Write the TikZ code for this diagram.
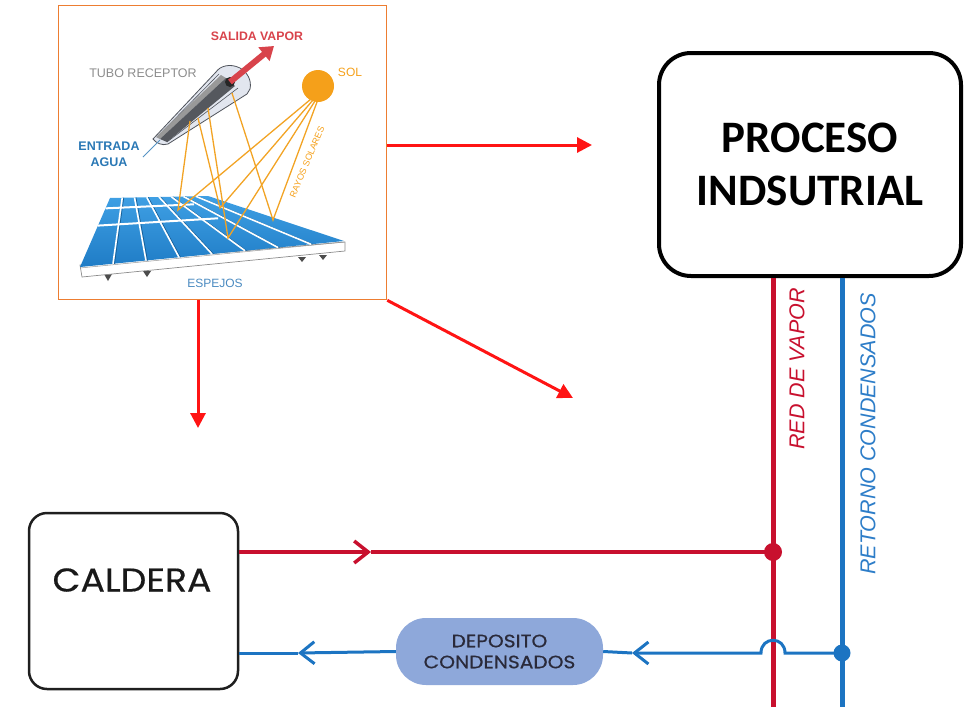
\documentclass[tikz,border=0pt]{standalone}
\usepackage{fontspec}
\setmainfont{Liberation Sans}
\newfontfamily\carlito{Carlito}
\newfontfamily\poppc[FakeBold=0.4,FakeStretch=1.1]{Poppins}
\newfontfamily\poppd[FakeBold=0.6,FakeStretch=1.12]{Poppins}
\usetikzlibrary{arrows.meta,calc}
\definecolor{arrred}{HTML}{FF1414}
\definecolor{frameor}{HTML}{ED7D31}
\definecolor{pipered}{HTML}{C8102E}
\definecolor{pipeblue}{HTML}{1C74C2}
\definecolor{labblue}{HTML}{2D7DC8}
\definecolor{depfill}{HTML}{8EA8DA}
\definecolor{deptext}{HTML}{2A2A3A}
\definecolor{vaporred}{HTML}{D8434B}
\definecolor{sunor}{HTML}{F5A01A}
\definecolor{rayor}{HTML}{F2A324}
\definecolor{entblue}{HTML}{2A78B5}
\definecolor{espblue}{HTML}{4A8AC0}
\definecolor{mirrorA}{HTML}{3FA0E4}
\definecolor{mirrorB}{HTML}{1F7CC6}
\definecolor{tubefill}{HTML}{E2E6EF}
\definecolor{tubeline}{HTML}{50545C}
\definecolor{tubedark}{HTML}{55585E}
\tikzset{
  redarrow/.style={draw=arrred, line width=3pt, -{Triangle[length=15pt,width=15pt]}},
  redpipe/.style={draw=pipered, line width=5pt},
  bluepipe/.style={draw=pipeblue, line width=5pt},
  redline/.style={draw=pipered, line width=3.5pt},
  blueline/.style={draw=pipeblue, line width=3pt},
  chev/.style={-{Straight Barb[length=14pt,width=22pt]}},
  procbox/.style={draw=black, line width=4pt, rounded corners=32pt, fill=white,
    minimum width=302pt, minimum height=223pt, align=center,
    font=\carlito\bfseries\fontsize{45}{53}\selectfont},
  caldbox/.style={draw=black!88, line width=2.5pt, rounded corners=18pt,
    minimum width=209pt, minimum height=176pt},
  depbox/.style={fill=depfill, rounded corners=30pt, minimum width=207pt,
    minimum height=67pt, align=center, text=deptext,
    font=\poppd\fontsize{18}{21}\selectfont},
  dotred/.style={circle, fill=pipered, minimum size=18pt, inner sep=0pt},
  dotblue/.style={circle, fill=pipeblue, minimum size=17pt, inner sep=0pt},
  ray/.style={draw=rayor, line width=1.3pt, line join=miter},
  divline/.style={draw=white, line width=1.6pt},
}
\begin{document}
\begin{tikzpicture}[x=1pt,y=-1pt]
\useasboundingbox (0,0) rectangle (972,707);

% ---------- solar collector picture ----------
\node[draw=frameor, line width=1.6pt, minimum width=328pt, minimum height=294pt, inner sep=0pt] (solar) at (222.5,152.5) {};

% base strip and feet
\fill[black!70] (104,274) -- (112,274) -- (108,281) -- cycle;
\fill[black!70] (143,271) -- (151,271) -- (147,277) -- cycle;
\fill[black!70] (298,257) -- (306,257) -- (302,262) -- cycle;
\fill[black!70] (319,255) -- (327,255) -- (323,260) -- cycle;
\draw[fill=white, draw=black!45, line width=0.7pt] (80,265) -- (345,242) -- (345,251) -- (82,277) -- cycle;

% mirror field
\coordinate (BL) at (110,198);
\coordinate (BR) at (208,196);
\coordinate (FR) at (344,241);
\coordinate (FL) at (80,267);
\shade[top color=mirrorA, bottom color=mirrorB] (BL) -- (BR) -- (FR) -- (FL) -- cycle;
\foreach \i in {1,...,7} {
  \pgfmathsetmacro\f{\i/8}
  \draw[draw=mirrorB!70!black, line width=0.6pt] ($(BL)!\f!(BR)+(1.5,0)$) -- ($(FL)!\f!(FR)+(1.5,0)$);
  \draw[divline] ($(BL)!\f!(BR)$) -- ($(FL)!\f!(FR)$);
}
\coordinate (T7) at ($(BL)!0.72!(BR)$);
\coordinate (B7) at ($(FL)!0.72!(FR)$);
\draw[white, line width=2pt] ($(BL)!0.15!(FL)$) -- ($(T7)!0.15!(B7)$);
\draw[white, line width=2pt] ($(BL)!0.40!(FL)$) -- ($(T7)!0.42!(B7)$);
\draw[black!40, line width=0.5pt] ($(FL)+(0,1)$) -- ($(FR)+(0,1)$);

% receiver tube
\draw[fill=tubefill, draw=tubeline, line width=0.8pt] (153,139) -- (216,72)
  .. controls (220,66) and (230,63) .. (240,68)
  .. controls (247,72) and (252,80) .. (250,89)
  -- (247,94) -- (168,144)
  .. controls (162,146) and (156,143) .. (153,139) -- cycle;
\draw[tubeline, line width=0.6pt] (158,136) -- (219,74);
\fill[black!40] (156,137) -- (221,75) -- (226,78) -- (160,139) -- cycle;
\fill[tubedark] (160,139) -- (226,78) -- (235,86) -- (167,142) -- cycle;
\draw[tubeline, line width=0.6pt] (167,142) -- (238,88);

% entrance water line
\draw[draw=entblue!80, line width=1pt] (143,157) -- (160,140);

% sun
\fill[sunor] (318,86) circle[radius=16pt];

% rays
\draw[ray] (311,99) -- (178,210) -- (190,121);
\draw[ray] (313,100) -- (220,208) -- (198,118);
\draw[ray] (315,101) -- (228,238) -- (208,108);
\draw[ray] (317,102) -- (273,220) -- (232,93);

% outlet
\fill[black!85] (230,82) circle[radius=5pt];
\draw[draw=vaporred, line width=6pt, -{Triangle[length=13pt,width=17pt]}] (230,82) -- (274,46);

% picture texts
\node[font=\bfseries\fontsize{12.3}{14}\selectfont, text=vaporred] (tsal) at (257,36) {SALIDA VAPOR};
\node[font=\fontsize{12.5}{14}\selectfont, text=black!45] (ttubo) at (143,73) {TUBO RECEPTOR};
\node[font=\fontsize{12}{14}\selectfont, text=sunor] (tsol) at (350,72) {SOL};
\node[align=center, font=\bfseries\fontsize{12.5}{16}\selectfont, text=entblue] (tent) at (109,154) {ENTRADA\\AGUA};
\node[font=\fontsize{12}{14}\selectfont, text=espblue] (tesp) at (215,283) {ESPEJOS};
\node[rotate=67, font=\fontsize{9}{10}\selectfont, text=sunor, inner sep=1pt] (tray) at (307,162) {RAYOS SOLARES};

% ---------- red arrows ----------
\coordinate (a1) at (592,145);
\draw[redarrow] (solar.east |- a1) -- (a1);
\coordinate (a2) at (198,428);
\draw[redarrow] (solar.south -| a2) -- (a2);
\coordinate (a3) at (573,398);
\draw[redarrow] (solar.south east) -- (a3);

% ---------- process box and pipes ----------
\node[procbox] (proc) at (810,164.5) {PROCESO\\INDSUTRIAL};
\coordinate (rb) at (773,707);
\coordinate (bb) at (842,707);
\draw[redpipe] (proc.south -| rb) -- (rb);
\draw[bluepipe] (proc.south -| bb) -- (bb);
\node[rotate=90, font=\itshape\fontsize{21.5}{24}\selectfont, text=pipered] (rdv) at (797,369) {RED DE VAPOR};
\node[rotate=90, font=\itshape\fontsize{21.5}{24}\selectfont, text=labblue] (rcd) at (868,434) {RETORNO CONDENSADOS};

% ---------- boiler ----------
\node[caldbox] (cald) at (133.5,601) {};
\node[font=\poppc\fontsize{33}{36}\selectfont, text=black!90] (caldt) at (132,580) {CALDERA};

% steam line
\node[dotred] (rdot) at (773,552) {};
\coordinate (rc) at (371,552);
\draw[redline, chev] (cald.east |- rc) -- (rc);
\draw[redline] (rc) -- (rdot.center);

% condensate line
\node[depbox] (dep) at (499.5,651.5) {DEPOSITO\\CONDENSADOS};
\node[dotblue] (bdot) at (842,653) {};
\coordinate (h2) at (785,653);
\coordinate (h1) at (761,653);
\coordinate (bc2) at (632,653);
\coordinate (bc1) at (298,653);
\draw[blueline, chev] (bdot.center) -- (h2) .. controls (785,636) and (761,636) .. (h1) -- (bc2);
\draw[blueline] (bc2) -- (dep.east);
\draw[blueline, chev] (dep.west) -- (bc1);
\draw[blueline] (bc1) -- (cald.east |- bc1);
\end{tikzpicture}
\end{document}
